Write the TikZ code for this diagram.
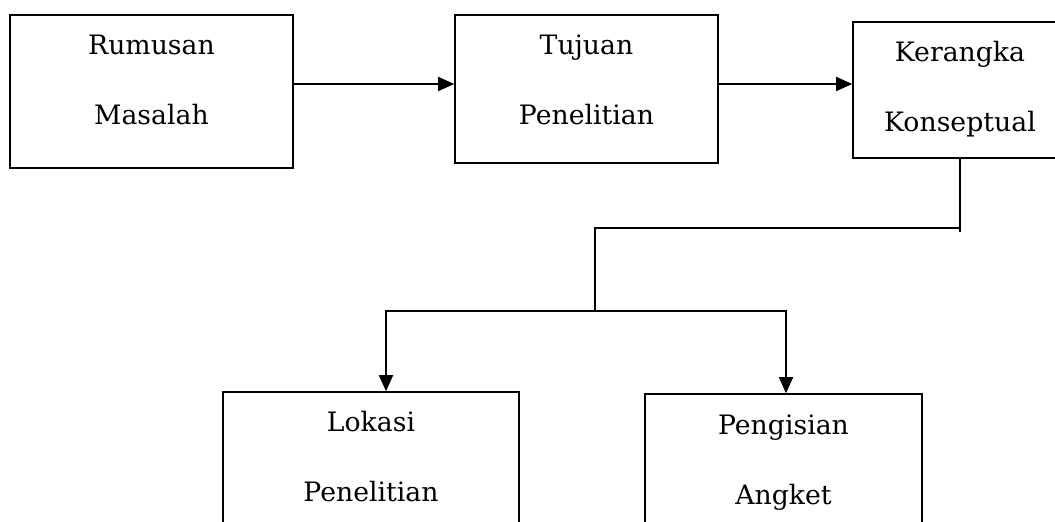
\documentclass[tikz,border=0pt]{standalone}
\usepackage{fontspec}
\setmainfont{DejaVu Serif}
\usetikzlibrary{arrows.meta, positioning}

\tikzset{
  kotak/.style={draw, line width=0.9pt, rectangle, inner sep=0pt},
  isi/.style={anchor=base, align=center, text width=5cm, inner sep=0pt,
    font=\fontsize{15.2pt}{39.8pt}\selectfont},
  panah/.style={line width=0.9pt, -{Triangle[length=0.32cm, width=0.28cm]}},
  garis/.style={line width=0.9pt}
}

\begin{document}
\begin{tikzpicture}
\useasboundingbox (0,0) rectangle (21.1,10.42);
\clip (0,0) rectangle (21.1,10.42);

% boxes on top row
\node[kotak, minimum width=5.66cm, minimum height=3.06cm] (rumusan) at (3.03,8.59) {};
\node[kotak, minimum width=5.26cm, minimum height=2.96cm] (tujuan) at (11.73,8.64) {};
\node[kotak, minimum width=4.28cm, minimum height=2.72cm] (kerangka) at (19.2,8.62) {};
\node[isi] (trumusan) at ([yshift=-0.8cm]rumusan.north) {Rumusan\\Masalah};
\node[isi] (ttujuan) at ([yshift=-0.8cm]tujuan.north) {Tujuan\\Penelitian};
\node[isi] (tkerangka) at ([yshift=-0.8cm]kerangka.north) {Kerangka\\Konseptual};

% boxes on bottom row
\node[kotak, minimum width=5.92cm, minimum height=3.06cm] (lokasi) at (7.42,1.05) {};
\node[kotak, minimum width=5.54cm, minimum height=3.02cm] (pengisian) at (15.67,1.03) {};
\node[isi] (tlokasi) at ([yshift=-0.8cm]lokasi.north) {Lokasi\\Penelitian};
\node[isi] (tpengisian) at ([yshift=-0.82cm]pengisian.north) {Pengisian\\Angket};

% arrows
\draw[panah] ([yshift=0.15cm]rumusan.east) -- ([yshift=0.1cm]tujuan.west);
\draw[panah] ([yshift=0.1cm]tujuan.east) -- ([yshift=0.12cm]kerangka.west);

\coordinate (belok) at (19.2,5.86);
\coordinate (cabang) at (11.9,4.2);
\draw[garis] (kerangka.south) -- ([yshift=-0.08cm]belok);
\draw[garis] (belok) -| (cabang);
\draw[panah] (cabang) -| ([xshift=0.3cm]lokasi.north);
\draw[panah] (cabang) -| ([xshift=0.05cm]pengisian.north);

\end{tikzpicture}
\end{document}
